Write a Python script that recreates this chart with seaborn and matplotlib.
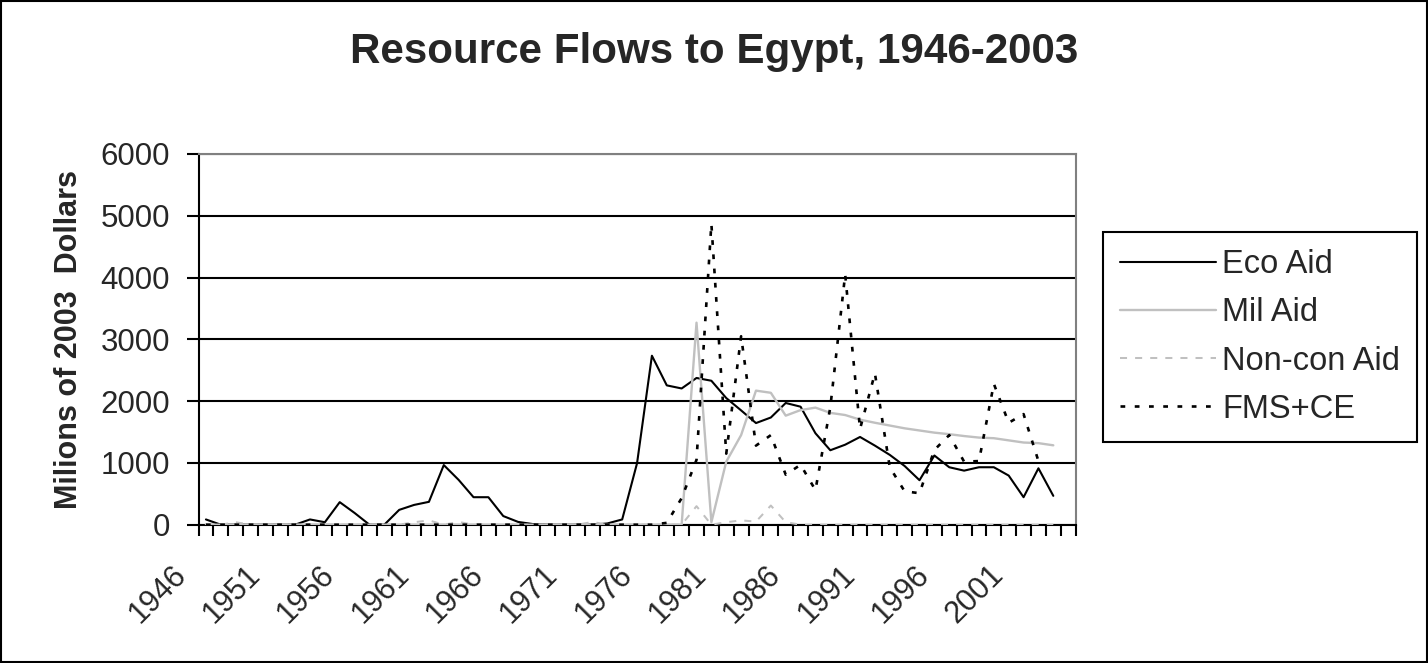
import numpy as np
import pandas as pd
import matplotlib
matplotlib.use("Agg")
import matplotlib.pyplot as plt
import matplotlib.transforms as mtransforms
from matplotlib.patches import Rectangle
import seaborn as sns

# Category axis runs 1946-2004; series data covers 1946-2003
years = list(range(1946, 2005))
data_years = list(range(1946, 2004))

eco_aid = [85, 0, 0, 0, 0, 0, 0, 85, 40, 365,
           190, 0, 0, 240, 320, 370, 965, 725, 445, 445,
           140, 45, 10, 0, 0, 0, 0, 20, 85, 995,
           2735, 2255, 2205, 2375, 2330, 2050, 1850, 1645, 1735, 1970,
           1910, 1480, 1205, 1295, 1420, 1280, 1130, 950, 720, 1120,
           930, 875, 930, 930, 795, 445, 913, 467]

mil_aid = [0, 0, 0, 0, 0, 0, 0, 0, 0, 0,
           0, 0, 0, 0, 0, 0, 0, 0, 0, 0,
           0, 0, 0, 0, 0, 0, 0, 0, 0, 0,
           0, 0, 0, 3270, 40, 1020, 1450, 2170, 2135, 1765,
           1855, 1895, 1810, 1775, 1700, 1650, 1605, 1560, 1525, 1490,
           1465, 1435, 1410, 1400, 1365, 1330, 1320, 1285]

noncon_aid = [0, 0, 40, 0, 0, 0, 0, 0, 0, 0,
              0, 0, 0, 0, 40, 70, 0, 45, 0, 0,
              0, 0, 0, 0, 0, 0, 45, 0, 0, 0,
              0, 0, 0, 300, 0, 40, 70, 50, 310, 40,
              0, 0, 0, 0, 0, 0, 0, 0, 0, 0,
              0, 0, 0, 0, 0, 0, 0, 0]

fms_ce = [0, 0, 0, 0, 0, 0, 0, 0, 0, 0,
          0, 0, 0, 0, 0, 0, 0, 0, 0, 0,
          0, 0, 0, 0, 0, 0, 0, 0, 0, 0,
          0, 30, 430, 1050, 4870, 1150, 3050, 1280, 1450, 810,
          970, 560, 1900, 4050, 1550, 2450, 930, 540, 510, 1210,
          1450, 1020, 1030, 2280, 1650, 1790, 1030, np.nan]

series_names = ["Eco Aid", "Mil Aid", "Non-con Aid", "FMS+CE"]
y_ticks = [0, 1000, 2000, 3000, 4000, 5000, 6000]
label_years = [1946, 1951, 1956, 1961, 1966, 1971, 1976, 1981, 1986, 1991, 1996, 2001]

pos = {y: i for i, y in enumerate(years)}
df = pd.DataFrame({
    "pos": [pos[y] for y in data_years],
    "Eco Aid": eco_aid,
    "Mil Aid": mil_aid,
    "Non-con Aid": noncon_aid,
    "FMS+CE": fms_ce,
})

sns.set_style("white")
plt.rcParams["font.family"] = ["Liberation Sans", "DejaVu Sans"]

W, H = 1428, 663
fig = plt.figure(figsize=(W / 100, H / 100), dpi=100)
ax = fig.add_axes([198.5 / W, (H - 524.7) / H, (1075.6 - 198.5) / W, (524.7 - 154) / H])

styles = {
    "Eco Aid": dict(color="black", lw=1.5, linestyle="-"),
    "Mil Aid": dict(color="#c0c0c0", lw=1.7, linestyle="-"),
    "Non-con Aid": dict(color="#c0c0c0", lw=1.45, linestyle=(0, (3.5, 4))),
    "FMS+CE": dict(color="black", lw=1.9, linestyle=(0, (1.8, 3.6))),
}
for name in series_names:
    sns.lineplot(data=df, x="pos", y=name, ax=ax, label=name,
                 estimator=None, errorbar=None, zorder=3, **styles[name])

# Axes ranges and y grid
ax.set_xlim(-0.5, len(years) - 0.5)
ax.set_ylim(0, 6000)
ax.set_yticks(y_ticks)
ax.set_yticklabels([str(v) for v in y_ticks], fontsize=22.5)
ax.yaxis.grid(True, color="black", lw=1.5)
ax.xaxis.grid(False)
ax.set_axisbelow(True)

# Category boundaries as tick marks, year labels at category centres
ax.set_xticks(np.arange(-0.5, len(years), 1.0))
ax.set_xticklabels([])
ax.set_xticks([pos[y] for y in label_years], minor=True)
ax.set_xticklabels([str(y) for y in label_years], minor=True, fontsize=22,
                   rotation=45, ha="right", va="top", rotation_mode="anchor")
ax.tick_params(axis="x", which="major", direction="out", length=8, width=1.5,
               color="black", bottom=True)
ax.tick_params(axis="x", which="minor", length=0, pad=25, bottom=True)
ax.tick_params(axis="y", which="major", direction="out", length=8.6, width=1.5,
               color="black", pad=12, left=True)
shift = mtransforms.ScaledTranslation(-35 / 100, 0, fig.dpi_scale_trans)
for lbl in ax.get_xticklabels(minor=True):
    lbl.set_transform(lbl.get_transform() + shift)

for side in ["left", "bottom"]:
    ax.spines[side].set_color("black")
    ax.spines[side].set_linewidth(1.5)
for side in ["top", "right"]:
    ax.spines[side].set_color("#808080")
    ax.spines[side].set_linewidth(1.5)

ax.set_xlabel("")
ax.set_ylabel("Milions of 2003  Dollars", fontsize=22, fontweight="bold")
ax.yaxis.set_label_coords((84 - 198.5) / (1075.6 - 198.5), 0.5)

fig.text(0.5, 1 - 63.4 / H, "Resource Flows to Egypt, 1946-2003",
         ha="center", va="baseline", fontsize=30.3, fontweight="bold")

handles, labels = ax.get_legend_handles_labels()
leg = ax.legend(handles, labels, loc="upper left",
                bbox_to_anchor=(1103 / W, 1 - 232 / H), bbox_transform=fig.transFigure,
                frameon=True, fancybox=False, shadow=False, framealpha=1,
                edgecolor="black", fontsize=23.5, borderpad=0.52,
                handlelength=2.94, handletextpad=0.2, labelspacing=0.53,
                borderaxespad=0)
leg.get_frame().set_linewidth(1.5)

# Outer chart border
fig.patches.append(Rectangle((1 / W, 1 / H), 1 - 2 / W, 1 - 2 / H,
                             transform=fig.transFigure, fill=False,
                             edgecolor="black", lw=1.5))

fig.savefig("out.png", dpi=100, facecolor="white")
